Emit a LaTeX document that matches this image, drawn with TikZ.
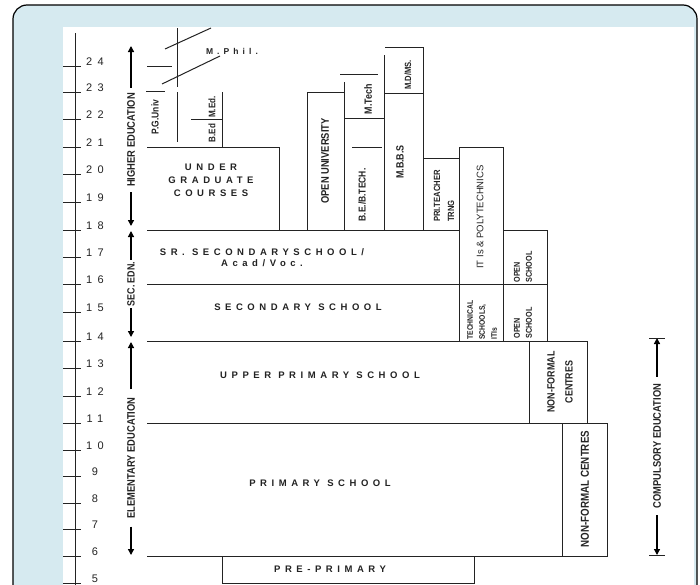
\documentclass[tikz,border=0pt]{standalone}
\usepackage{fontspec}
\setmainfont{Liberation Sans}
\newfontfamily\narrowfont[FakeStretch=0.85]{Liberation Sans}
\newfontfamily\spacedfont[LetterSpace=48]{Liberation Sans}
\usetikzlibrary{arrows.meta}
\definecolor{frameblue}{RGB}{214,234,240}
\definecolor{inkgray}{RGB}{35,35,35}
\newcommand{\nbf}[2]{\narrowfont\bfseries\fontsize{#1}{#2}\selectfont}

\tikzset{
  chart/.style={draw=inkgray, line width=1pt},
  vlabel/.style={rotate=90, text=inkgray, inner sep=1pt},
  rowlabel/.style={text=inkgray, inner sep=0pt, font=\spacedfont\bfseries\fontsize{9.5}{13}\selectfont},
  agelabel/.style={text=inkgray, inner sep=0pt, font=\spacedfont\fontsize{11}{12}\selectfont},
  agearrow/.style={draw=black, line width=1.3pt, -{Triangle[length=6pt,width=6pt]}},
}

\begin{document}
\begin{tikzpicture}[x=1pt, y=-1pt]
\useasboundingbox (0,0) rectangle (700,584);
% frame
\draw[fill=frameblue, line width=1.2pt, rounded corners=14pt] (13,620) -- (13,5) -- (697,5) -- (697,620);
\fill[white] (63,27) rectangle (694,620);

% age scale
\draw[chart] (75,33) -- (75,600);
\foreach \age/\yy in {24/66, 23/92, 22/119, 21/147, 20/174, 19/202, 18/230, 17/257, 16/284, 15/312,
                      14/341, 13/368, 12/396, 11/423, 10/450, 9/476, 8/503, 7/529, 6/556, 5/583} {
  \draw[chart] (63,\yy) -- (81,\yy);
  \node[agelabel] (age\age) at (95,\yy-4) {\age};
}

% higher education
\draw[chart] (147,147) -- (279,147) -- (279,230);
\draw[chart] (177,28) -- (177,87);
\draw[chart] (177,92) -- (177,142);
\draw[chart] (146,91) -- (165,91);
\draw[chart] (147,66) -- (172,66);
\draw[chart] (162,84) -- (220,56);
\draw[chart] (165,49) -- (211,28);
\draw[chart] (191,119) -- (222,119);
\draw[chart] (222,92) -- (222,147);
\draw[chart] (307,230) -- (307,92) -- (344,92);
\draw[chart] (344,82) -- (344,230);
\draw[chart] (344,118) -- (384,118);
\draw[chart] (352,147) -- (382,147);
\draw[chart] (340,74) -- (378,74);
\draw[chart] (384,55) -- (384,230);
\draw[chart] (384,93) -- (423,93);
\draw[chart] (385,47) -- (423,47) -- (423,230);
\draw[chart] (423,158) -- (459,158);
\draw[chart] (459,341) -- (459,147) -- (503,147) -- (503,341);

% secondary
\draw[chart] (147,230) -- (459,230);
\draw[chart] (503,230) -- (547,230) -- (547,341);
\draw[chart] (147,284) -- (547,284);

% elementary
\draw[chart] (147,341) -- (587,341) -- (587,423);
\draw[chart] (529,341) -- (529,423);
\draw[chart] (147,423) -- (607,423) -- (607,556) -- (147,556);
\draw[chart] (562,423) -- (562,556);
\draw[chart] (222,556) rectangle (474,583);

% labels
\node[vlabel, font=\nbf{10}{12}] (pgUniv) at (155,117) {P.G.Univ};
\node[vlabel, font=\nbf{9.5}{11}] (mEd) at (212,107) {M.Ed.};
\node[vlabel, font=\nbf{9.5}{11}] (bEd) at (212,133) {B.Ed};
\node[rowlabel, font=\spacedfont\bfseries\fontsize{8.5}{10}\selectfont] (mPhil) at (232,51) {M.Phil.};
\node[rowlabel, align=center] (ugCourses) at (211,180) {UNDER\\GRADUATE\\COURSES};
\node[vlabel, font=\nbf{11}{12}] (openUniv) at (325,161) {OPEN UNIVERSITY};
\node[vlabel, font=\nbf{10.5}{12}] (mTech) at (368,99) {M.Tech};
\node[vlabel, font=\nbf{10}{12}] (beTech) at (362,195) {B.E./B.TECH.};
\node[vlabel, font=\nbf{10.5}{12}] (mbbs) at (400,162) {M.B.B.S};
\node[vlabel, font=\nbf{9}{11}] (mdMs) at (408,75) {M.D/MS.};
\node[vlabel, font=\nbf{9}{14}, align=left] (priTrng) at (444,196) {PRI.TEACHER\\TRNG};
\node[vlabel, font=\fontsize{9.5}{11}\selectfont] (itiPoly) at (480,217) {IT Is \& POLYTECHNICS};
\node[rowlabel, align=center, font=\spacedfont\bfseries\fontsize{9.5}{11}\selectfont] (srSec) at (262,258) {SR. SECONDARYSCHOOL/\\Acad/Voc.};
\node[rowlabel] (secSchool) at (298,307) {SECONDARY SCHOOL};
\node[vlabel, font=\nbf{8}{12}, align=left] (techSchools) at (482,320) {TECHNICAL\\SCHOOLS,\\ITIs};
\node[vlabel, font=\nbf{8.5}{12}, align=left] (openSchoolA) at (523,267) {OPEN\\SCHOOL};
\node[vlabel, font=\nbf{8.5}{12}, align=left] (openSchoolB) at (523,323) {OPEN\\SCHOOL};
\node[rowlabel] (upperPrim) at (320,375) {UPPER PRIMARY SCHOOL};
\node[vlabel, font=\nbf{10.5}{18}, align=center] (nfCentresA) at (560,382) {NON-FORMAL\\CENTRES};
\node[rowlabel] (primSchool) at (320,483) {PRIMARY SCHOOL};
\node[vlabel, font=\nbf{11.5}{14}] (nfCentresB) at (585,489) {NON-FORMAL CENTRES};
\node[rowlabel] (prePrim) at (330,569) {PRE-PRIMARY};

% stage arrows
\coordinate (heTop) at (131,46);
\coordinate (heBot) at (131,226);
\node[vlabel, fill=white, inner xsep=5pt, font=\nbf{11}{12}] (higherEdn) at (131,140) {HIGHER EDUCATION};
\draw[agearrow] (higherEdn) -- (heTop);
\draw[agearrow] (higherEdn) -- (heBot);

\coordinate (secTop) at (131,231);
\coordinate (secBot) at (131,337);
\node[vlabel, fill=white, inner xsep=1.5pt, font=\nbf{10.5}{12}] (secEdn) at (131,284) {SEC. EDN.};
\draw[agearrow] (secEdn) -- (secTop);
\draw[agearrow] (secEdn) -- (secBot);

\coordinate (elTop) at (131,342);
\coordinate (elBot) at (131,555);
\node[vlabel, fill=white, inner xsep=8pt, font=\nbf{11}{12}] (elemEdn) at (131,458) {ELEMENTARY EDUCATION};
\draw[agearrow] (elemEdn) -- (elTop);
\draw[agearrow] (elemEdn) -- (elBot);

\coordinate (cmTop) at (657,338);
\coordinate (cmBot) at (657,555);
\node[vlabel, fill=white, inner xsep=7pt, font=\nbf{11}{12}] (compEdn) at (657,446) {COMPULSORY EDUCATION};
\draw[agearrow] (compEdn) -- (cmTop);
\draw[agearrow] (compEdn) -- (cmBot);
\draw[chart] ([xshift=-8pt]cmTop) -- ([xshift=8pt]cmTop);
\draw[chart] ([xshift=-8pt]cmBot) -- ([xshift=8pt]cmBot);
\end{tikzpicture}
\end{document}
